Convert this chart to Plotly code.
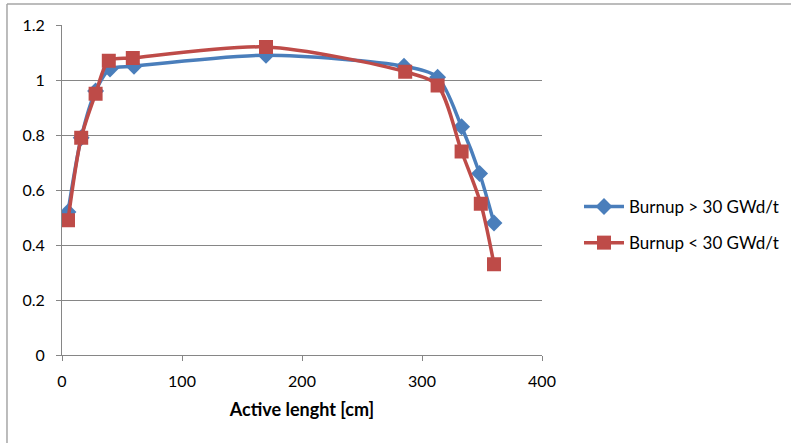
import plotly.graph_objects as go

x_high = [5, 16, 28, 40, 60, 170, 285, 313, 333, 348, 360]
y_high = [0.52, 0.79, 0.96, 1.04, 1.05, 1.09, 1.05, 1.01, 0.83, 0.66, 0.48]

x_low = [5, 16, 28, 39, 59, 170, 286, 313, 333, 349, 360]
y_low = [0.49, 0.79, 0.95, 1.07, 1.08, 1.12, 1.03, 0.98, 0.74, 0.55, 0.33]

name_high = "Burnup > 30 GWd/t"
name_low = "Burnup < 30 GWd/t"

x_ticks = [0, 100, 200, 300, 400]
y_ticks = [0, 0.2, 0.4, 0.6, 0.8, 1, 1.2]
y_tick_text = ["0", "0.2", "0.4", "0.6", "0.8", "1", "1.2"]

blue = "#4A7EBB"
red = "#BE4B48"
grid = "#868686"
font = "Lato, 'Open Sans', sans-serif"

fig = go.Figure()
fig.add_trace(go.Scatter(
    x=x_high, y=y_high, name=name_high, mode="lines+markers", legendgroup="a",
    line=dict(color=blue, width=3.5, shape="spline", smoothing=0.8),
    marker=dict(symbol="diamond", size=13, color=blue),
))
fig.add_trace(go.Scatter(
    x=x_low, y=y_low, name=name_low, mode="lines+markers", legendgroup="b",
    line=dict(color=red, width=3.5, shape="spline", smoothing=0.8),
    marker=dict(symbol="square", size=14, color=red),
))

fig.update_layout(
    width=791, height=443,
    margin=dict(l=62, r=249, t=25, b=88, autoexpand=False),
    paper_bgcolor="white", plot_bgcolor="white",
    font=dict(family=font, size=16, color="black"),
    showlegend=True,
    legend=dict(x=579 / 791, y=0.394, xref="container", xanchor="left", yanchor="middle",
                font=dict(size=17), tracegroupgap=11, itemwidth=40),
    xaxis=dict(range=[0, 400], tickvals=x_ticks, ticks="outside", ticklen=5,
               tickcolor=grid, showline=True, linecolor=grid, linewidth=1,
               showgrid=False, zeroline=False, ticklabelstandoff=7,
               title=dict(text="<b>Active lenght [cm]</b>", font=dict(size=18), standoff=14)),
    yaxis=dict(range=[0, 1.2], tickvals=y_ticks, ticktext=y_tick_text,
               ticks="outside", ticklen=5, tickcolor=grid, showline=True,
               linecolor=grid, linewidth=1, showgrid=True, gridcolor=grid,
               gridwidth=1, zeroline=False, ticklabelstandoff=8),
    shapes=[
        dict(type="line", xref="paper", yref="paper", x0=-0.1146, x1=1.6,
             y0=1.0636, y1=1.0636, line=dict(color="#A6A6A6", width=1.5)),
        dict(type="line", xref="paper", yref="paper", x0=-0.1146, x1=-0.1146,
             y0=1.0636, y1=-0.3, line=dict(color="#A6A6A6", width=1.5)),
    ],
)

fig.write_html("out.html", config={"displayModeBar": False},
               post_script="document.body.style.margin='0';")
